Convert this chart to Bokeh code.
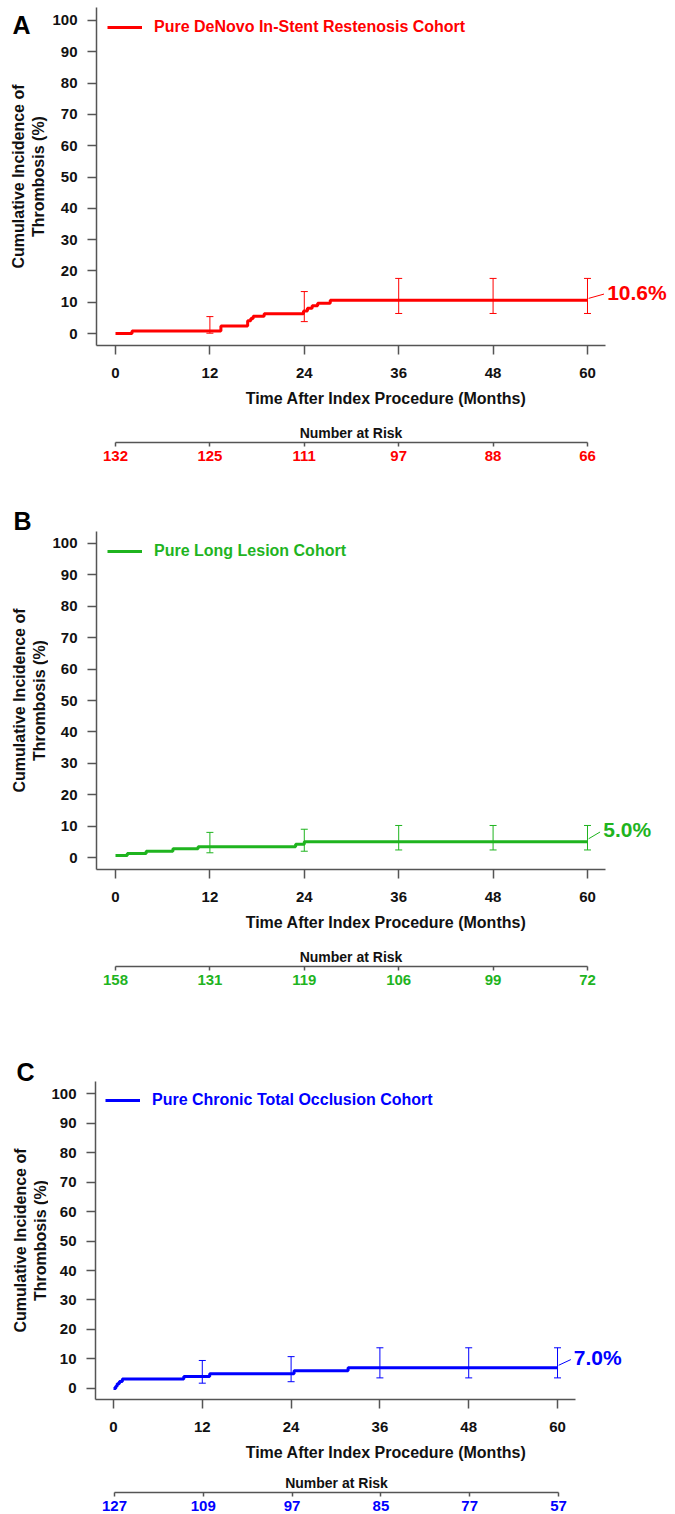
import math
from bokeh.plotting import figure
from bokeh.models import (Range1d, FixedTicker, Whisker, TeeHead, ColumnDataSource,
                          Legend, LegendItem, Label)
from bokeh.core.properties import value
from bokeh.layouts import column, row
from bokeh.embed import file_html
from bokeh.resources import INLINE

# ---------------- data ----------------
months = [0, 12, 24, 36, 48, 60]
err_times = [12, 24, 36, 48, 60]
y_title = ["Cumulative Incidence of", "Thrombosis (%)"]
x_title = "Time After Index Procedure (Months)"

# Panel A: Pure DeNovo In-Stent Restenosis Cohort
a_t = [0, 2.1, 13.4, 16.8, 17.2, 17.5, 18.9, 23.9, 24.4, 25.0, 25.7, 27.3, 60]
a_v = [0.0, 0.8, 2.4, 4.1, 4.8, 5.5, 6.3, 7.2, 8.1, 8.9, 9.7, 10.6, 10.6]
a_err_mid = [0.8, 7.2, 10.6, 10.6, 10.6]
a_err_lo = [0.1, 3.8, 6.4, 6.4, 6.4]
a_err_hi = [5.4, 13.4, 17.6, 17.6, 17.6]
a_risk = [132, 125, 111, 97, 88, 66]

# Panel B: Pure Long Lesion Cohort
b_t = [0, 1.5, 3.9, 7.3, 10.5, 22.9, 24.0, 60]
b_v = [0.6, 1.3, 2.0, 2.8, 3.4, 4.2, 5.0, 5.0]
b_err_mid = [3.4, 5.0, 5.0, 5.0, 5.0]
b_err_lo = [1.5, 2.0, 2.4, 2.4, 2.4]
b_err_hi = [8.0, 9.0, 10.2, 10.2, 10.2]
b_risk = [158, 131, 119, 106, 99, 72]

# Panel C: Pure Chronic Total Occlusion Cohort
c_t = [0, 0.3, 0.5, 0.8, 1.2, 9.5, 13.0, 24.4, 31.7, 60]
c_v = [0.0, 0.8, 1.6, 2.4, 3.2, 4.1, 5.0, 6.0, 7.0, 7.0]
c_err_mid = [4.1, 5.0, 7.0, 7.0, 7.0]
c_err_lo = [1.8, 2.3, 3.6, 3.6, 3.6]
c_err_hi = [9.5, 10.8, 13.8, 13.8, 13.8]
c_risk = [127, 109, 97, 85, 77, 57]

FONT = "Liberation Sans"
AXIS = "#555555"
RED = "#ff0000"
GREEN = "#1fb41f"
BLUE = "#0000ff"
PAGE_W = 675
SIDE_W = 48


def bare(fig):
    fig.xgrid.visible = False
    fig.ygrid.visible = False
    fig.outline_line_color = None
    fig.background_fill_color = "white"
    fig.border_fill_color = "white"


def style_axis(ax, ticks):
    ax.ticker = FixedTicker(ticks=ticks)
    ax.axis_line_color = AXIS
    ax.axis_line_width = 1.5
    ax.major_tick_line_color = AXIS
    ax.major_tick_line_width = 1.5
    ax.major_tick_out = 9
    ax.major_tick_in = 0
    ax.minor_tick_line_color = None
    ax.major_label_text_font = FONT
    ax.major_label_text_font_style = "bold"
    ax.major_label_text_font_size = "15px"
    ax.major_label_text_color = "#111111"
    ax.axis_label_text_font = FONT
    ax.axis_label_text_font_style = "bold"
    ax.axis_label_text_font_size = "16px"
    ax.axis_label_text_color = "#111111"


def make_panel(t, v, emid, elo, ehi, risk, color, legend_text, letter, final_text, g):
    x0, x1 = g["xr"]
    ppu = g["fw"] / (x1 - x0)
    ext_w = PAGE_W - g["L"]
    x1_ext = x0 + ext_w / ppu
    yr = Range1d(*g["yr"])
    ppy = g["fh"] / (g["yr"][1] - g["yr"][0])
    T = g["T"]

    # ---- side strip: panel letter and y-axis title ----
    s = figure(frame_width=SIDE_W, frame_height=g["fh"],
               x_range=Range1d(0, SIDE_W), y_range=yr,
               min_border_left=0, min_border_right=0,
               min_border_top=T, min_border_bottom=g["B"],
               x_axis_location=None, y_axis_location=None,
               output_backend="svg", toolbar_location=None)
    bare(s)
    lxp, lyp = g["let"]
    if lyp > T:
        s.text(x=[lxp], y=[g["yr"][1] - (lyp - T) / ppy], text=[letter],
               text_font=value(FONT), text_font_style="bold", text_font_size="25px",
               text_color="black", text_align="left", text_baseline="middle")
    else:
        s.title.text = letter
        s.title.align = "left"
        s.title.offset = lxp
        s.title.standoff = g["ls"]
        s.title.text_font = FONT
        s.title.text_font_style = "bold"
        s.title.text_font_size = "25px"
        s.title.text_color = "black"
    ty = (g["yr"][0] + g["yr"][1]) / 2
    s.text(x=list(g["tx"]), y=[ty, ty], text=y_title, angle=math.pi / 2,
           text_font=value(FONT), text_font_style="bold", text_font_size="16px",
           text_color="#111111", text_align="center", text_baseline="middle")

    # ---- main plot ----
    p = figure(frame_width=ext_w, frame_height=g["fh"],
               x_range=Range1d(x0, x1_ext), y_range=yr,
               min_border_left=g["L"] - SIDE_W, min_border_right=0,
               min_border_top=T, min_border_bottom=g["B"],
               output_backend="svg", toolbar_location=None)
    bare(p)

    style_axis(p.xaxis[0], months)
    p.xaxis[0].axis_label = x_title
    p.xaxis[0].bounds = (x0, x1)
    p.xaxis[0].major_label_standoff = 13
    p.xaxis[0].axis_label_standoff = 9
    style_axis(p.yaxis[0], list(range(0, 101, 10)))
    p.yaxis[0].major_label_standoff = 10

    src = ColumnDataSource(dict(t=err_times, mid=emid, lo=elo, hi=ehi))
    w = Whisker(base="t", upper="hi", lower="lo", source=src, dimension="height",
                line_color=color, line_width=1,
                upper_head=TeeHead(size=7, line_color=color, line_width=1),
                lower_head=TeeHead(size=7, line_color=color, line_width=1))
    p.add_layout(w)

    r = p.step(x=t, y=v, mode="after", line_color=color, line_width=3)

    leg = Legend(items=[LegendItem(label=legend_text, renderers=[r])],
                 location="top_left", margin=g["lm"], padding=4,
                 glyph_width=35, glyph_height=g["lh"], label_height=g["lh"],
                 label_standoff=12, border_line_color=None,
                 background_fill_alpha=0,
                 label_text_font=FONT, label_text_font_style="bold",
                 label_text_font_size="16px", label_text_color=color)
    p.add_layout(leg)

    final_v = v[-1]
    lx, ly = g["lab"]
    p.segment(x0=[60.15], y0=[final_v + 0.25 * (ly - final_v)],
              x1=[lx - 0.4], y1=[ly - 0.2 * (ly - final_v)],
              line_color=color, line_width=1)
    p.add_layout(Label(x=lx, y=ly, text=final_text, text_color=color,
                       text_font=FONT, text_font_style="bold", text_font_size="21px",
                       text_align="left", text_baseline="middle"))

    # ---- number-at-risk row ----
    q = figure(frame_width=g["fw"], frame_height=1,
               x_range=Range1d(x0, x1), y_range=Range1d(0, 1),
               min_border_left=g["L"], min_border_right=PAGE_W - g["L"] - g["fw"],
               min_border_top=g["rt"], min_border_bottom=g["rb"],
               output_backend="svg", toolbar_location=None,
               y_axis_location=None, title="Number at Risk")
    bare(q)
    q.title.align = "center"
    q.title.text_font = FONT
    q.title.text_font_style = "bold"
    q.title.text_font_size = "14px"
    q.title.text_color = "#111111"
    q.title.standoff = 2
    ax = q.xaxis[0]
    ax.ticker = FixedTicker(ticks=months)
    ax.bounds = (0, 60)
    ax.major_label_overrides = {m: str(n) for m, n in zip(months, risk)}
    ax.axis_line_color = AXIS
    ax.axis_line_width = 1.5
    ax.major_tick_line_color = AXIS
    ax.major_tick_line_width = 1.5
    ax.major_tick_out = 4
    ax.major_tick_in = 0
    ax.minor_tick_line_color = None
    ax.major_label_standoff = 4
    ax.major_label_text_font = FONT
    ax.major_label_text_font_style = "bold"
    ax.major_label_text_font_size = "15px"
    ax.major_label_text_color = color
    return [row(s, p, spacing=0), q]


gA = dict(fw=509, fh=338, L=96, T=7, B=64, xr=(-2.415, 62.29), yr=(-3.83, 104.15),
          lm=11, lh=14, lab=(62.5, 13.1), let=(12, 24), ls=0, tx=(18, 38), rt=32, rb=23)
gB = dict(fw=509, fh=338, L=96, T=66, B=64, xr=(-2.415, 62.29), yr=(-3.82, 103.82),
          lm=11, lh=14, lab=(62.0, 8.9), let=(13, 57), ls=-7, tx=(19, 39), rt=32, rb=23)
gC = dict(fw=480, fh=318, L=94, T=92, B=62, xr=(-2.43, 62.43), yr=(-3.73, 104.07),
          lm=10, lh=12, lab=(62.2, 10.5), let=(16, 85), ls=-9, tx=(20, 40), rt=28, rb=23)

partsA = make_panel(a_t, a_v, a_err_mid, a_err_lo, a_err_hi, a_risk, RED,
                    "Pure DeNovo In-Stent Restenosis Cohort", "A", "10.6%", gA)
partsB = make_panel(b_t, b_v, b_err_mid, b_err_lo, b_err_hi, b_risk, GREEN,
                    "Pure Long Lesion Cohort", "B", "5.0%", gB)
partsC = make_panel(c_t, c_v, c_err_mid, c_err_lo, c_err_hi, c_risk, BLUE,
                    "Pure Chronic Total Occlusion Cohort", "C", "7.0%", gC)

layout = column(*partsA, *partsB, *partsC, spacing=0)
open("out.html", "w").write(file_html(layout, INLINE))
